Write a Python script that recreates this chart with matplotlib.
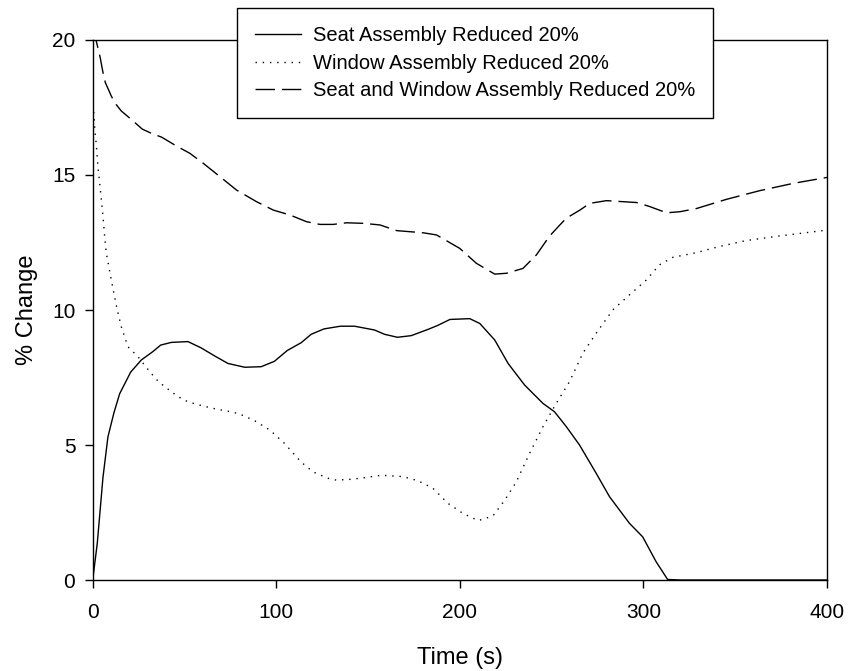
import matplotlib
matplotlib.use("Agg")
import matplotlib.pyplot as plt

plt.rcParams["font.family"] = ["Liberation Sans", "DejaVu Sans"]

# Seat assembly reduced 20% (solid)
seat_t = [0, 2.5, 5.6, 8.3, 11.6, 14.7, 20.7, 26.5, 32.8, 37, 42.8, 51.9, 59, 66.4,
          73.7, 82.8, 91.8, 99, 106, 113.6, 119, 126, 135, 142.6, 153.5, 159, 166,
          173.5, 182.6, 188, 194.6, 205.4, 210.9, 219, 226.3, 235.3, 245.3, 251.6,
          258, 265.2, 274.3, 281.5, 292.4, 299.6, 306.9, 313.2, 320, 400]
seat_y = [0, 1.36, 3.8, 5.3, 6.2, 6.9, 7.7, 8.15, 8.46, 8.7, 8.8, 8.83, 8.6, 8.3,
          8.02, 7.88, 7.9, 8.1, 8.5, 8.79, 9.1, 9.3, 9.4, 9.4, 9.26, 9.1, 8.99,
          9.05, 9.28, 9.43, 9.65, 9.68, 9.5, 8.89, 8.02, 7.22, 6.54, 6.23,
          5.68, 5.0, 3.95, 3.09, 2.1, 1.6, 0.68, 0.02, 0, 0]

# Window assembly reduced 20% (dotted)
window_t = [0, 0.6, 1.1, 2, 2.9, 3.8, 4.7, 5.6, 6.5, 7.4, 9.8, 11.6, 13.4, 15.6,
            19.2, 24.7, 31, 35, 39.2, 46.5, 51.9, 59.2, 67.3, 75.5, 80, 88.2, 96.4,
            104.5, 111.8, 116.3, 120.9, 128.1, 132.7, 140.8, 148.1, 157.2, 169,
            177.1, 185.3, 193.5, 201.6, 210, 218, 224.5, 230.8, 238, 245.3, 252.5,
            259.8, 267, 274.3, 283.3, 292.4, 301.4, 308.7, 316, 328.6, 341.3,
            355.8, 373.9, 400]
window_y = [17.6, 17.3, 16.75, 16.1, 15.27, 14.7, 14.1, 13.48, 12.74, 12.12, 11.23,
            10.6, 10.0, 9.38, 8.64, 8.27, 7.72, 7.41, 7.16, 6.79, 6.6, 6.46, 6.33,
            6.23, 6.15, 5.9, 5.56, 5.06, 4.5, 4.2, 3.98, 3.77, 3.7, 3.73, 3.79,
            3.88, 3.83, 3.68, 3.4, 2.84, 2.47, 2.2, 2.37, 2.96, 3.64, 4.69, 5.68,
            6.54, 7.35, 8.4, 9.14, 10.0, 10.56, 11.1, 11.67, 11.95, 12.12, 12.35,
            12.57, 12.74, 12.96]

# Seat and window assembly reduced 20% (dashed)
both_t = [0, 1.8, 4, 5.6, 6.9, 10.3, 12.9, 15.6, 21, 27, 32.1, 37.6, 45.7, 53,
          60.3, 69.3, 78.4, 89.3, 98.4, 107.4, 116.5, 123.8, 131, 138.3, 147.4,
          156.5, 165.6, 180, 187.3, 200, 209, 219, 225.4, 234.4, 241.7, 248.9,
          254.5, 258, 265.4, 270.8, 279.9, 296.3, 303.5, 312.6, 319.9, 329,
          345.3, 363.4, 381.6, 400]
both_y = [20.4, 20.0, 19.38, 18.8, 18.42, 17.9, 17.6, 17.37, 17.06, 16.7, 16.54,
          16.4, 16.07, 15.8, 15.43, 14.94, 14.44, 14.01, 13.7, 13.52, 13.27,
          13.17, 13.17, 13.23, 13.21, 13.15, 12.94, 12.86, 12.78, 12.28, 11.73,
          11.33, 11.36, 11.54, 12.04, 12.74, 13.15, 13.4, 13.7, 13.95, 14.05,
          13.98, 13.83, 13.6, 13.64, 13.76, 14.1, 14.42, 14.69, 14.91]

labels = ["Seat Assembly Reduced 20%",
          "Window Assembly Reduced 20%",
          "Seat and Window Assembly Reduced 20%"]

fig = plt.figure(figsize=(8.48, 6.71), dpi=100)
ax = fig.add_axes([0.1093, 0.1356, 0.8659, 0.8048])

ax.plot(seat_t, seat_y, color="black", lw=1.0, label=labels[0])
ax.plot(window_t, window_y, color="black", lw=1.0, dashes=(1, 4.2), label=labels[1])
ax.plot(both_t, both_y, color="black", lw=1.0, dashes=(14, 5), label=labels[2])

ax.set_xlim(0, 400)
ax.set_ylim(0, 20)
ax.set_xticks([0, 100, 200, 300, 400])
ax.set_yticks([0, 5, 10, 15, 20])
ax.tick_params(direction="out", length=5.5, width=1, labelsize=15,
               top=False, right=False, colors="black")
ax.tick_params(axis="x", pad=11)
ax.tick_params(axis="y", pad=7)
for s in ax.spines.values():
    s.set_linewidth(1.0)

ax.set_xlabel("Time (s)", fontsize=17, labelpad=18)
ax.set_ylabel("% Change", fontsize=17, labelpad=10)

leg = ax.legend(loc="upper left", bbox_to_anchor=(237 / 848, 1 - 8 / 671),
                bbox_transform=fig.transFigure, fontsize=14.5, frameon=True,
                fancybox=False, framealpha=1, edgecolor="black",
                handlelength=2.3, handletextpad=0.6, borderpad=0.88,
                labelspacing=0.44, borderaxespad=0)
leg.get_frame().set_linewidth(1.0)
leg.set_zorder(5)

fig.savefig("out.png", dpi=100)
